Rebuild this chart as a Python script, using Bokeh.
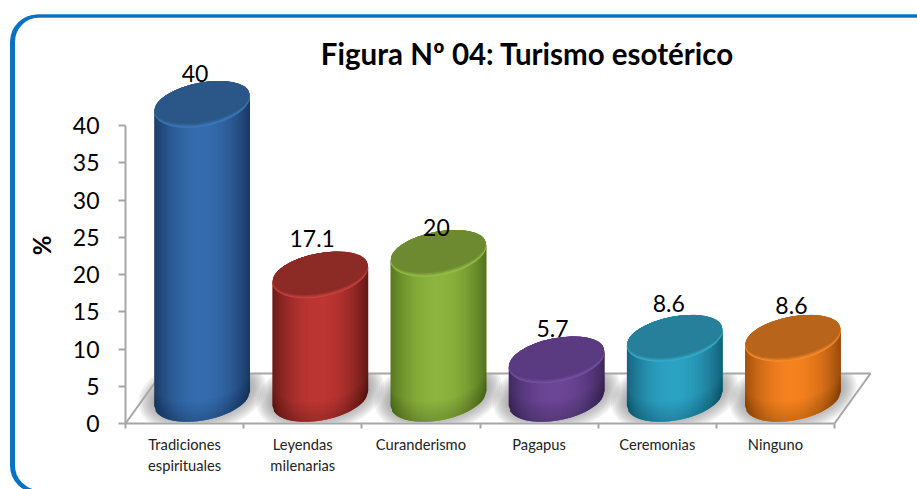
import numpy as np
from bokeh.plotting import figure
from bokeh.models import (ColumnDataSource, FixedTicker, Range1d, BoxAnnotation, LabelSet)
from bokeh.core.properties import value
from bokeh.embed import file_html
from bokeh.resources import INLINE

categories = ["Tradiciones espirituales", "Leyendas milenarias", "Curanderismo",
              "Pagapus", "Ceremonias", "Ninguno"]
values = [40, 17.1, 20, 5.7, 8.6, 8.6]
value_labels = ["40", "17.1", "20", "5.7", "8.6", "8.6"]
y_ticks = [0, 5, 10, 15, 20, 25, 30, 35, 40]
title_text = "Figura Nº 04: Turismo esotérico"
y_title = "%"

edge_colors = ["#1b3a63", "#651a18", "#54751e", "#3f295d", "#14627a", "#9c4e0d"]
center_colors = ["#346cae", "#bd3633", "#8db43e", "#6c4696", "#2ca2c3", "#f5811f"]
top_colors = ["#2b5788", "#8c2a26", "#6e8a30", "#5a3a80", "#267f9b", "#b8641a"]
rim_colors = ["#3d78bb", "#c9413d", "#95be48", "#75509f", "#35acca", "#f58c2e"]

# page geometry
W, H = 917, 489
PX_X0, PX_X6 = 125.0, 834.0
PX_Y0, PX_Y40 = 423.0, 125.0
ux = 6.0 / (PX_X6 - PX_X0)
uy = 40.0 / (PX_Y0 - PX_Y40)
def dx(px): return px * ux
def dy(px): return px * uy
x_range = Range1d(dx(0 - PX_X0), dx(W - PX_X0))
y_range = Range1d(dy(PX_Y0 - H), dy(PX_Y0))

p = figure(width=W, height=H, x_range=x_range, y_range=y_range,
           output_backend="svg", toolbar_location=None,
           min_border=0,
           outline_line_color=None, background_fill_color="white", border_fill_color="white")
p.grid.visible = False

# frame of the slide
for left in (11.0, 13.0):
    p.add_layout(BoxAnnotation(left=left, right=W + 40, top=H - 15.5, bottom=-2,
                               left_units="screen", right_units="screen",
                               top_units="screen", bottom_units="screen",
                               fill_alpha=0, line_color="#0a72c4", line_alpha=1, line_width=3,
                               border_radius=26, level="underlay"))

p.text([dx(527 - PX_X0)], [dy(PX_Y0 - 53)], text=[title_text], text_align="center",
       text_baseline="middle", text_font=value("Lato"), text_font_style="bold",
       text_font_size="29.5px", text_color="black")
p.text([dx(41 - PX_X0)], [dy(PX_Y0 - 245)], text=[y_title], angle=np.pi / 2, text_align="center",
       text_baseline="middle", text_font=value("Lato"), text_font_style="bold",
       text_font_size="24px", text_color="black")

AXIS = "#a6a6a6"
for ax in (p.xaxis[0], p.yaxis[0]):
    ax.fixed_location = 0
    ax.axis_line_color = AXIS
    ax.axis_line_width = 2
    ax.major_tick_line_color = AXIS
    ax.major_tick_line_width = 2
    ax.minor_tick_line_color = AXIS

yax = p.yaxis[0]
yax.bounds = (0, 40)
yax.ticker = FixedTicker(ticks=y_ticks)
yax.major_tick_in = 0
yax.major_tick_out = 7
yax.minor_tick_out = 0
yax.minor_tick_in = 0
yax.major_label_text_font = "Lato"
yax.major_label_text_font_size = "23px"
yax.major_label_text_color = "black"
yax.major_label_standoff = 19

xax = p.xaxis[0]
xax.bounds = (0, 6)
centres = [i + 0.5 for i in range(len(categories))]
xax.ticker = FixedTicker(ticks=centres, minor_ticks=list(range(len(categories) + 1)))
xax.major_tick_in = 0
xax.major_tick_out = 0
xax.minor_tick_in = 0
xax.minor_tick_out = 5
xax.minor_tick_line_width = 2
xax.major_label_overrides = {c: n.replace(" ", "\n") for c, n in zip(centres, categories)}
xax.major_label_text_font = "Lato"
xax.major_label_text_font_size = "14.7px"
xax.major_label_text_color = "#222222"
xax.major_label_standoff = 6
xax.major_label_orientation = "horizontal"

# floor
DEPTH_X, DEPTH_Y = 36.0, 50.0
p.patch([0, 6, 6 + dx(DEPTH_X), dx(DEPTH_X)], [0, 0, dy(DEPTH_Y), dy(DEPTH_Y)],
        fill_color="white", line_color=None)

# cylinders
A, B, TILT = 48.6, 21.8, np.deg2rad(11)
BAR_DX, BASE_DY, TOP_DY = 17.5, 25.0, 21.0
ca, sa = np.cos(TILT), np.sin(TILT)
qa = ca**2 / A**2 + sa**2 / B**2
qb = 2 * sa * ca * (1 / A**2 - 1 / B**2)
qc = sa**2 / A**2 + ca**2 / B**2

def lower(x):
    d = np.maximum(qb**2 * x**2 - 4 * qc * (qa * x**2 - 1), 0)
    return (-qb * x - np.sqrt(d)) / (2 * qc)

half = np.sqrt(4 * qc / (4 * qa * qc - qb**2))

def hexrgb(c): return np.array([int(c[i:i + 2], 16) for i in (1, 3, 5)], float)
def tohex(v): return "#%02x%02x%02x" % tuple(int(round(k)) for k in v)

# soft shadows on the floor
for i in range(len(values)):
    cx = i + 0.5 + dx(BAR_DX)
    for grow in range(16, 0, -2):
        t = np.linspace(0, 2 * np.pi, 80)
        a = A + grow
        b = B + grow
        px = a * np.cos(t) * ca - b * np.sin(t) * sa
        py = a * np.cos(t) * sa + b * np.sin(t) * ca + BASE_DY + 4
        py = np.clip(py, 1, DEPTH_Y)
        p.patch(cx + dx(px), dy(py), fill_color="#707070", fill_alpha=0.095, line_color=None)

# floor lines above the shadow
p.line([0, dx(DEPTH_X), 6 + dx(DEPTH_X), 6], [0, dy(DEPTH_Y), dy(DEPTH_Y), 0], line_color=AXIS, line_width=2)

STRIPS = 64
for i, v in enumerate(values):
    cx = i + 0.5 + dx(BAR_DX)
    e, c = hexrgb(edge_colors[i]), hexrgb(center_colors[i])
    edges = np.linspace(-half, half, STRIPS + 1)
    xs, ys, cols = [], [], []
    for k in range(STRIPS):
        l, r = edges[k], edges[min(k + 2, STRIPS)]
        s = abs((edges[k] + edges[k + 1]) / 2 / half + 0.02)
        col = e + (c - e) * (1 - s**2.1)
        xs.append(list(cx + dx(np.array([l, r, r, l]))))
        ys.append([dy(BASE_DY + lower(l)), dy(BASE_DY + lower(r)),
                   v + dy(TOP_DY + lower(r) + 1), v + dy(TOP_DY + lower(l) + 1)])
        cols.append(tohex(col))
    p.patches(xs, ys, fill_color=cols, line_color=None)
    # darker towards the foot of the cylinder
    run = np.linspace(-half, half, 40)
    body_px = v / uy + TOP_DY - BASE_DY
    for h in (2, 4, 6, 8, 10, 12, 14, 16, 18, 20):
        hh = min(h, body_px)
        bx = np.concatenate([run, run[::-1]])
        by = np.concatenate([lower(run), lower(run[::-1]) + hh]) + BASE_DY
        p.patch(cx + dx(bx), dy(by), fill_color="black", fill_alpha=0.016, line_color=None)
    topy = v + dy(TOP_DY)
    rim, face = hexrgb(rim_colors[i]), hexrgb(top_colors[i])
    layers = 6
    for j in range(layers):
        f = j / (layers - 1)
        shrink = 6 * f
        p.ellipse([cx], [topy + dy(shrink / 2)], width=2 * A - 1.5 * f, height=2 * B - shrink,
                  width_units="screen", height_units="screen", angle=11, angle_units="deg",
                  fill_color=tohex(rim + (face - rim) * min(1, f * 1.6)), line_color=None)

# value labels
label_dx = [-7, -8, -2, -4, -6, -1.5]
label_dy = [31, 36.6, 26, 31.5, 35, 32.5]
src = ColumnDataSource(dict(
    x=[i + 0.5 + dx(BAR_DX + label_dx[i]) for i in range(len(values))],
    y=[v + dy(TOP_DY + label_dy[i]) for i, v in enumerate(values)],
    t=value_labels))
p.add_layout(LabelSet(x="x", y="y", text="t", source=src, text_align="center",
                      text_baseline="middle", text_font=value("Lato"), text_font_size="23px",
                      text_color="black"))

open("out.html", "w").write(file_html(p, INLINE))
